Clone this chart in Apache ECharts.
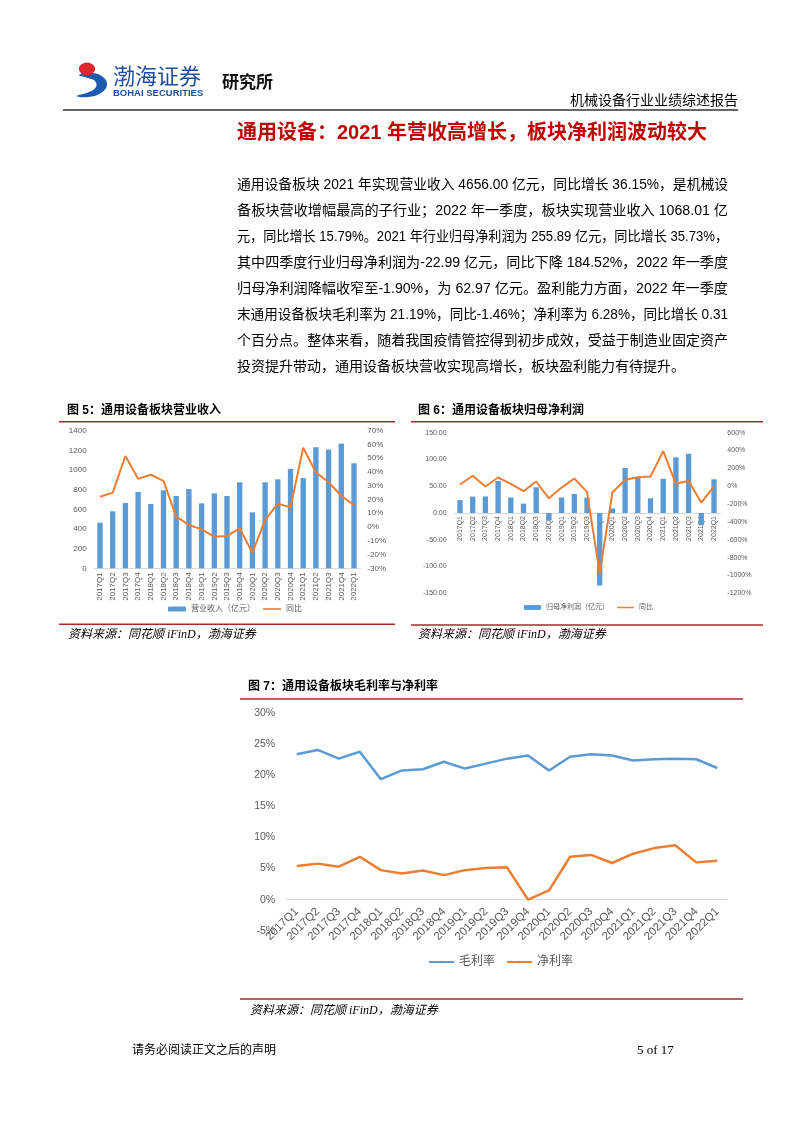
<!DOCTYPE html>
<html><head><meta charset="utf-8">
<script src="https://cdn.jsdelivr.net/npm/echarts@6/dist/echarts.min.js"></script>
<style>html,body{margin:0;padding:0;background:#fff}#c{width:802px;height:1133px}</style>
</head><body><div id="c"></div>
<script>
// ---------- data ----------
const categories = ['2017Q1','2017Q2','2017Q3','2017Q4','2018Q1','2018Q2','2018Q3','2018Q4','2019Q1','2019Q2','2019Q3','2019Q4','2020Q1','2020Q2','2020Q3','2020Q4','2021Q1','2021Q2','2021Q3','2021Q4','2022Q1'];
// 图5 营业收入（亿元）与同比（%）
const revenue    = [464,580,664,776,654,793,736,807,661,763,736,875,569,875,905,1012,918,1232,1208,1268,1068.01];
const revenueYoY = [22,25,51.6,35,38,33.6,7.5,1.5,-1.7,-7,-6.5,-1,-18.7,5,17,14.3,57.6,39.7,32.5,22.7,15.79];
// 图6 归母净利润（亿元）与同比（%）
const profit     = [24,30.6,31,60,29,17.5,48,-14,29,35.6,28.7,-135.6,8.7,84,66,27.5,64,104,110.6,-22.99,62.97];
const profitYoY  = [19,117,-3,98,27,-56,53,-135,-15,87,-63,-975,-71,72,101,109,394,27,61,-184.52,-1.9];
// 图7 毛利率、净利率（%）
const grossMargin = [23.4,24.1,22.7,23.8,19.4,20.8,21.0,22.2,21.1,21.9,22.7,23.2,20.8,23.0,23.4,23.2,22.4,22.6,22.7,22.6,21.19];
const netMargin   = [5.4,5.8,5.3,6.9,4.75,4.2,4.7,3.95,4.75,5.1,5.2,0,1.5,6.9,7.2,5.9,7.4,8.3,8.75,6.0,6.28];

const pageTitle = '通用设备：2021 年营收高增长，板块净利润波动较大';
const paragraphLines = [
 '通用设备板块 2021 年实现营业收入 4656.00 亿元，同比增长 36.15%，是机械设',
 '备板块营收增幅最高的子行业；2022 年一季度，板块实现营业收入 1068.01 亿',
 '元，同比增长 15.79%。2021 年行业归母净利润为 255.89 亿元，同比增长 35.73%，',
 '其中四季度行业归母净利润为-22.99 亿元，同比下降 184.52%，2022 年一季度',
 '归母净利润降幅收窄至-1.90%，为 62.97 亿元。盈利能力方面，2022 年一季度',
 '末通用设备板块毛利率为 21.19%，同比-1.46%；净利率为 6.28%，同比增长 0.31',
 '个百分点。整体来看，随着我国疫情管控得到初步成效，受益于制造业固定资产',
 '投资提升带动，通用设备板块营收实现高增长，板块盈利能力有待提升。'
];
const chartTitles = ['图 5：通用设备板块营业收入','图 6：通用设备板块归母净利润','图 7：通用设备板块毛利率与净利率'];
const sourceText = '资料来源：同花顺 iFinD，渤海证券';

// ---------- styles ----------
const SANS = '"Liberation Sans", "Noto Sans CJK SC", sans-serif';
const SERIF = '"Liberation Serif", "Noto Sans CJK SC", serif';
const BLUE = '#5B9BD5', ORANGE = '#ED7D31', GRAY = '#595959', RED = '#A52A2A';
const LINE_ICON = 'path://M0,0L0,0M0,1.6L20,1.6L20,3.4L0,3.4ZM20,5L20,5';

function txt(text, x, y, font, fill, align) {
  return {type:'text', silent:true, style:{text:text, x:x, y:y, font:font, fill:fill||'#000',
    textAlign:align||'left', textVerticalAlign:'middle', align:align||'left', verticalAlign:'middle'}};
}
function hline(x1, x2, y, color, w) {
  return {type:'line', silent:true, shape:{x1:x1,y1:y,x2:x2,y2:y}, style:{stroke:color, lineWidth:w}};
}

const graphic = [];
// header logo
graphic.push({type:'polygon', silent:true, shape:{smooth:0.45, points:[[79,75],[92,73],[103,77],[107,85],[101,93],[88,97],[77,96],[89,92],[96,87],[95,81],[88,78]]}, style:{fill:'#1E5BB0'}});
graphic.push({type:'circle', silent:true, shape:{cx:87,cy:69,r:6.5}, scaleX:1.25, originX:87, originY:69, style:{fill:'#E3262B'}});
graphic.push(txt('渤海证券', 113, 76, '22px "Noto Sans CJK SC", serif', '#1E4E9E'));
graphic.push(txt('BOHAI SECURITIES', 113, 93, 'bold 9.5px "Liberation Sans Narrow", "Liberation Sans", sans-serif', '#1E4E9E'));
graphic.push(txt('研究所', 222, 82, 'bold 17px "Noto Sans CJK SC", sans-serif', '#111'));
graphic.push(txt('机械设备行业业绩综述报告', 738, 100, '14px "Noto Sans CJK SC", sans-serif', '#000', 'right'));
graphic.push(hline(63, 738, 110, '#333', 1.5));
// title & paragraph (lines are fitted to the text block width, like justified text)
graphic.push(txt(pageTitle, 237, 133, 'bold 20px ' + SANS, '#C00000'));
const bodyFont = '14px ' + SANS;
const measureCtx = document.createElement('canvas').getContext('2d');
measureCtx.font = bodyFont;
const blockWidth = 491;
paragraphLines.forEach((l, i) => {
  const el = txt(l, 237, 185 + i * 26, bodyFont, '#000');
  if (i < paragraphLines.length - 1) {
    const w = measureCtx.measureText(l).width;
    if (w > 0) { el.scaleX = blockWidth / w; el.originX = 237; el.originY = 185 + i * 26; }
  }
  graphic.push(el);
});
// chart frames
graphic.push(txt(chartTitles[0], 67, 411, 'bold 12px ' + SANS, '#000'));
graphic.push(hline(59, 395, 421.7, RED, 1.5));
graphic.push(hline(59, 395, 624.3, RED, 1.5));
graphic.push(txt(sourceText, 68, 635, 'italic 12px ' + SERIF, '#000'));
graphic.push(txt(chartTitles[1], 418, 411, 'bold 12px ' + SANS, '#000'));
graphic.push(hline(411, 763, 421.7, RED, 1.5));
graphic.push(hline(411, 763, 625, RED, 1.5));
graphic.push(txt(sourceText, 418, 635, 'italic 12px ' + SERIF, '#000'));
graphic.push(txt(chartTitles[2], 248, 687, 'bold 12px ' + SANS, '#000'));
graphic.push(hline(240, 743, 699, RED, 1.5));
graphic.push(hline(240, 743, 999, RED, 1.5));
graphic.push(txt(sourceText, 250, 1011, 'italic 12px ' + SERIF, '#000'));
// footer
graphic.push(txt('请务必阅读正文之后的声明', 132, 1051, '12px ' + SERIF, '#000'));
graphic.push(txt('5 of 17', 637, 1051, '13px ' + SERIF, '#000'));

// offset moves the category axis up to the value-axis zero line
function catAxis(gi, rotate, size, margin, offset) {
  return {type:'category', gridIndex:gi, data:categories, boundaryGap:true, position:'bottom', offset:offset,
    axisLine:{show:true, onZero:false, lineStyle:{color:'#D9D9D9', width:1}}, axisTick:{show:false},
    splitLine:{show:false},
    axisLabel:{interval:0, rotate:rotate, fontSize:size, color:GRAY, margin:margin, fontFamily:SANS}};
}
function valAxis(gi, pos, min, max, interval, size, margin, fmt) {
  return {type:'value', gridIndex:gi, position:pos, min:min, max:max, interval:interval,
    axisLine:{show:false}, axisTick:{show:false}, splitLine:{show:false},
    axisLabel:{fontSize:size, color:GRAY, margin:margin, fontFamily:SANS, formatter:fmt}};
}

const g6 = {top:432.7, height:160.6};
const g7 = {top:713.3, height:217.4};
const option = {
  animation:false,
  backgroundColor:'#fff',
  graphic:graphic,
  grid:[
    {left:93.65, top:430.7, width:266.7, height:137.6, containLabel:false, outerBoundsMode:'none'},
    {left:453.65, top:g6.top, width:266.7, height:g6.height, containLabel:false, outerBoundsMode:'none'},
    {left:286.2, top:g7.top, width:441.6, height:g7.height, containLabel:false, outerBoundsMode:'none'}
  ],
  xAxis:[
    catAxis(0, 90, 8, 4, 0),
    catAxis(1, 90, 7, 3, -g6.height * 150 / 300),
    catAxis(2, 45, 11.5, 10, -g7.height * 5 / 35)
  ],
  yAxis:[
    valAxis(0, 'left', 0, 1400, 200, 8, 7, v => String(v)),
    valAxis(0, 'right', -30, 70, 10, 8, 7, v => v + '%'),
    valAxis(1, 'left', -150, 150, 50, 7, 7, v => v.toFixed(2)),
    valAxis(1, 'right', -1200, 600, 200, 7, 7, v => v + '%'),
    valAxis(2, 'left', -5, 30, 5, 10.5, 11, v => v + '%')
  ],
  legend:[
    {data:['营业收入（亿元）',{name:'同比', icon:LINE_ICON}], left:168, top:605, padding:0, itemWidth:18, itemHeight:5, itemGap:8, selectedMode:false,
      textStyle:{fontSize:8, color:GRAY, fontFamily:SANS}},
    {data:['归母净利润（亿元）',{name:'同比', icon:LINE_ICON}], left:524, top:604, padding:0, itemWidth:17, itemHeight:5, itemGap:8, selectedMode:false,
      textStyle:{fontSize:7, color:GRAY, fontFamily:SANS}},
    {data:['毛利率','净利率'], left:428, top:956, padding:0, itemWidth:25, itemHeight:3, itemGap:11, selectedMode:false,
      textStyle:{fontSize:12, color:GRAY, fontFamily:SANS}}
  ],
  series:[
    {type:'bar', name:'营业收入（亿元）', xAxisIndex:0, yAxisIndex:0, data:revenue, barWidth:'42%', itemStyle:{color:BLUE}},
    {type:'line', name:'同比', xAxisIndex:0, yAxisIndex:1, data:revenueYoY, symbol:'none', lineStyle:{color:ORANGE, width:2}, itemStyle:{color:ORANGE}},
    {type:'bar', name:'归母净利润（亿元）', xAxisIndex:1, yAxisIndex:2, data:profit, barWidth:'42%', itemStyle:{color:BLUE}},
    {type:'line', name:'同比', xAxisIndex:1, yAxisIndex:3, data:profitYoY, symbol:'none', lineStyle:{color:ORANGE, width:2}, itemStyle:{color:ORANGE}},
    {type:'line', name:'毛利率', xAxisIndex:2, yAxisIndex:4, data:grossMargin, symbol:'none', lineStyle:{color:BLUE, width:2.5}, itemStyle:{color:BLUE}},
    {type:'line', name:'净利率', xAxisIndex:2, yAxisIndex:4, data:netMargin, symbol:'none', lineStyle:{color:ORANGE, width:2.5}, itemStyle:{color:ORANGE}}
  ]
};
const chart = echarts.init(document.getElementById('c'));
chart.setOption(option);
</script>
</body></html>
